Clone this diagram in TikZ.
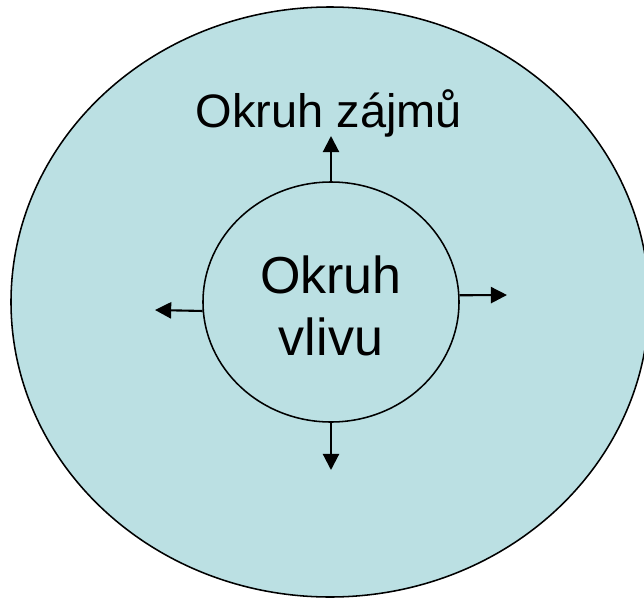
\documentclass[tikz,border=0pt]{standalone}
\usepackage{fontspec}
\setmainfont{Liberation Sans}
\usepackage{xcolor}
\usetikzlibrary{arrows.meta,shapes.geometric}
\definecolor{okruh}{RGB}{187,224,227}

\begin{document}
\begin{tikzpicture}[
  pfeil/.style={-{Triangle[length=11.5pt,width=11.5pt]},line width=1.5pt}]
\useasboundingbox (0,0) rectangle (16.1,-14.95);
\draw[fill=okruh,line width=1.1pt] (8.25,-7.55) ellipse (7.975 and 7.375);
\node[draw,ellipse,line width=1.1pt,minimum width=6.4cm,minimum height=6cm,
  align=center,font=\fontsize{37}{44}\selectfont] (vliv) at (8.275,-7.55){\rule{0pt}{32pt}Okruh\\vlivu};
\node[anchor=base,font=\fontsize{33.4}{40}\selectfont] (zajem) at (8.225,-3.175){Okruh zájmů};
\coordinate (nahoru) at (8.275,-3.4);
\coordinate (vpravo) at (12.675,-7.375);
\coordinate (vlevo) at (3.875,-7.75);
\coordinate (dolu) at (8.275,-11.75);
\draw[pfeil] (vliv.north)--(nahoru);
\draw[pfeil] (vliv.3)--(vpravo);
\draw[pfeil] (vliv.184)--(vlevo);
\draw[pfeil] (vliv.south)--(dolu);
\end{tikzpicture}
\end{document}
